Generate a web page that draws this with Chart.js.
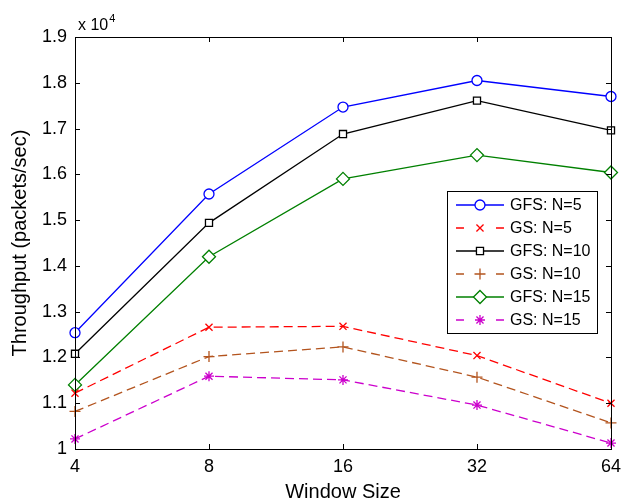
<!DOCTYPE html>
<html>
<head>
<meta charset="utf-8">
<script src="https://cdn.jsdelivr.net/npm/chart.js@4/dist/chart.umd.min.js"></script>
<style>
  html, body { margin: 0; padding: 0; background: #fff; }
  #wrap { width: 628px; height: 502px; }
</style>
</head>
<body>
<div id="wrap"><canvas id="c" width="628" height="502"></canvas></div>
<script>
// ---- data ----
const windowSizes = ['4', '8', '16', '32', '64'];
const gfsN5  = [12540, 15570, 17470, 18050, 17700];
const gsN5   = [11220, 12660, 12680, 12040, 11000];
const gfsN10 = [12080, 14940, 16880, 17610, 16960];
const gsN10  = [10820, 12020, 12230, 11570, 10570];
const gfsN15 = [11400, 14200, 15900, 16420, 16040];
const gsN15  = [10220, 11590, 11510, 10960, 10130];
const seriesLabels = ['GFS: N=5', 'GS: N=5', 'GFS: N=10', 'GS: N=10', 'GFS: N=15', 'GS: N=15'];
const yMin = 10000, yMax = 19000, yStep = 1000;

const FONT = '"Liberation Sans", Arial, Helvetica, sans-serif';
const BROWN = '#b3541e';
const MAGENTA = '#cc00cc';
const GREEN = '#008000';

function ds(label, data, color, style, radius, dashed) {
  return {
    label, data,
    borderColor: color,
    backgroundColor: '#ffffff',
    pointBorderColor: color,
    pointBackgroundColor: '#ffffff',
    pointStyle: style,
    pointRadius: radius,
    pointHoverRadius: radius,
    pointBorderWidth: 1.3,
    borderWidth: 1.3,
    borderDash: dashed ? [9, 5] : [],
    tension: 0,
    fill: false,
    clip: false
  };
}

const datasets = [
  ds(seriesLabels[0], gfsN5,  '#0000ff', 'circle',   5,   false),
  ds(seriesLabels[1], gsN5,   '#ff0000', 'crossRot', 5,   true),
  ds(seriesLabels[2], gfsN10, '#000000', 'rect',     5,   false),
  ds(seriesLabels[3], gsN10,  BROWN,     'cross',    5.5, true),
  ds(seriesLabels[4], gfsN15, GREEN,     'rectRot',  6.5, false),
  ds(seriesLabels[5], gsN15,  MAGENTA,   'star',     5,   true)
];

const framePlugin = {
  id: 'frame',
  afterDraw(chart) {
    const ctx = chart.ctx;
    const a = chart.chartArea;
    const xs = chart.scales.x, ys = chart.scales.y;
    const TL = 5;
    ctx.save();
    ctx.strokeStyle = '#000';
    ctx.lineWidth = 1;
    ctx.setLineDash([]);
    // frame
    ctx.strokeRect(Math.round(a.left) + 0.5, Math.round(a.top) + 0.5,
                   Math.round(a.right - a.left), Math.round(a.bottom - a.top));
    // inward ticks
    ctx.beginPath();
    xs.ticks.forEach((t, i) => {
      const px = Math.round(xs.getPixelForTick(i)) + 0.5;
      ctx.moveTo(px, a.bottom); ctx.lineTo(px, a.bottom - TL);
      ctx.moveTo(px, a.top); ctx.lineTo(px, a.top + TL);
    });
    ys.ticks.forEach((t, i) => {
      const py = Math.round(ys.getPixelForTick(i)) + 0.5;
      ctx.moveTo(a.left, py); ctx.lineTo(a.left + TL, py);
      ctx.moveTo(a.right, py); ctx.lineTo(a.right - TL, py);
    });
    ctx.stroke();

    // exponent label
    ctx.fillStyle = '#000';
    ctx.textBaseline = 'alphabetic';
    ctx.textAlign = 'left';
    ctx.font = '16px ' + FONT;
    ctx.fillText('x 10', a.left + 3, a.top - 7);
    const w = ctx.measureText('x 10').width;
    ctx.font = '11px ' + FONT;
    ctx.fillText('4', a.left + 3 + w + 1, a.top - 15);

    // legend
    const boxR = a.right - 14, boxT = a.top + 154;
    const boxW = 150, boxH = 142;
    const boxL = boxR - boxW;
    ctx.fillStyle = '#fff';
    ctx.fillRect(boxL, boxT, boxW, boxH);
    ctx.strokeStyle = '#000';
    ctx.lineWidth = 1;
    ctx.strokeRect(Math.round(boxL) + 0.5, Math.round(boxT) + 0.5, boxW, boxH);
    chart.data.datasets.forEach((d, i) => {
      const cy = boxT + 14 + i * 23;
      const x0 = boxL + 9, x1 = boxL + 57, xm = (x0 + x1) / 2;
      ctx.strokeStyle = d.borderColor;
      ctx.lineWidth = d.borderWidth;
      ctx.beginPath();
      if (d.borderDash.length) {
        ctx.moveTo(x0, cy); ctx.lineTo(x0 + 8, cy);
        ctx.moveTo(x1 - 8, cy); ctx.lineTo(x1, cy);
      } else {
        ctx.moveTo(x0, cy); ctx.lineTo(x1, cy);
      }
      ctx.stroke();
      ctx.fillStyle = '#fff';
      Chart.helpers.drawPoint(ctx, {
        pointStyle: d.pointStyle, radius: d.pointRadius,
        borderWidth: d.pointBorderWidth, rotation: 0
      }, xm, cy);
      ctx.fillStyle = '#000';
      ctx.font = '16px ' + FONT;
      ctx.textBaseline = 'middle';
      ctx.textAlign = 'left';
      ctx.fillText(d.label, boxL + 63, cy + 1);
    });
    ctx.restore();
  }
};

new Chart(document.getElementById('c'), {
  type: 'line',
  data: { labels: windowSizes, datasets },
  options: {
    responsive: false,
    animation: false,
    devicePixelRatio: 1,
    layout: { padding: { top: 37, right: 12, left: 0, bottom: 0 } },
    plugins: { legend: { display: false }, tooltip: { enabled: false } },
    scales: {
      x: {
        type: 'category',
        offset: false,
        grid: { display: false, drawTicks: false },
        border: { display: true, color: '#000', width: 1 },
        ticks: { color: '#000', font: { family: FONT, size: 18 }, padding: 7, maxRotation: 0, autoSkip: false },
        title: { display: true, text: 'Window Size', color: '#000',
                 font: { family: FONT, size: 20, lineHeight: 1 }, padding: { top: 0, bottom: 0 } },
        afterFit(s) { s.height = 53; }
      },
      y: {
        type: 'linear',
        min: yMin, max: yMax,
        grid: { display: false, drawTicks: false },
        border: { display: true, color: '#000', width: 1 },
        ticks: {
          stepSize: yStep, color: '#000', font: { family: FONT, size: 18 }, padding: 8,
          callback: v => String(Number((v / 10000).toFixed(1)))
        },
        title: { display: true, text: 'Throughput (packets/sec)', color: '#000',
                 font: { family: FONT, size: 20, lineHeight: 1.2 }, padding: { top: 8, bottom: 0 } },
        afterFit(s) { s.width = 75; }
      }
    }
  },
  plugins: [framePlugin]
});
</script>
</body>
</html>
